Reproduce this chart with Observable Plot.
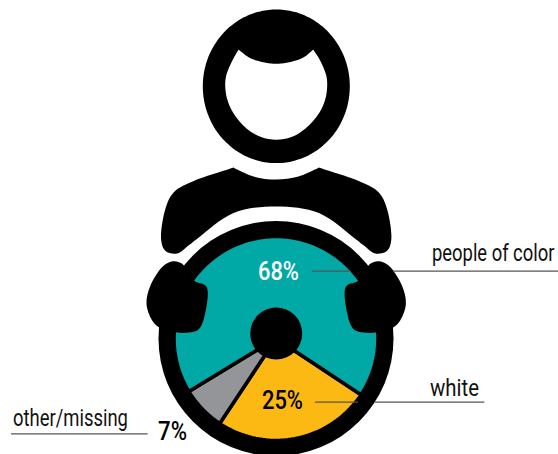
<!DOCTYPE html>
<html><head><meta charset="utf-8">
<script src="https://cdn.jsdelivr.net/npm/d3@7"></script>
<script src="https://cdn.jsdelivr.net/npm/@observablehq/plot@0.6"></script>
<style>html,body{margin:0;padding:0;background:#fff}svg{display:block}</style>
</head><body><div id="chart"></div>
<script>
const categories = ["white", "other/missing", "people of color"];
const shares = [25, 7, 68];
const shareLabels = ["25%", "7%", "68%"];
const sliceColors = ["#fdb913", "#939598", "#00a9a5"];

const W = 558, H = 454, MID = 275.7;
const wheel = {x: 275.5, y: 338};
const F = 'Roboto';

const corner = (x, y) => [[x - 0.03, y - 0.03], [x + 0.03, y + 0.03]];
const mirror = pts => pts.map(([x, y]) => [2 * MID - x, y]);

const facePts = [...corner(238.3, 49.3), [247, 56], [256, 60], [275.7, 63.3], [295.5, 60], [304.5, 56], ...corner(312.7, 49.3),
  [318, 57], [322.5, 66], [326, 76], [326.7, 85], [325, 98], [319, 112], [305, 128], [291, 136.5], [275.7, 139.3], [260.5, 136.5], [246, 128], [232.5, 112], [226.5, 98], [224.7, 85], [225.5, 76], [229, 66], [233.5, 57]];
const bodyLeftDown = [...corner(232.7, 167), [193.3, 180.5], [173.3, 191.7], [165, 208], [160.7, 240], [165, 250.5], [176.7, 253], ...corner(188, 245)];
const bodyRightUp = mirror(bodyLeftDown).reverse();
const bodyPts = [...bodyLeftDown, [197, 238], [233, 212.5], [MID, 206], [318.4, 212.5], [354.4, 238], ...bodyRightUp, [298, 176], [MID, 179], [253, 176]];
const handLeft = [[173.3, 260.7], [181.7, 263.3], [193.3, 280], [205, 285], [207.3, 291.7], [201.7, 323.3], [196.7, 330], [185, 332.3], [175, 331.7], [158.3, 326.7], [151.7, 320], [146, 303.3], [150, 285], [163.3, 265]];
const handRight = mirror(handLeft);
const headOuter = d3.range(0, 360, 3).map(a => [275.8 + 73.5 * Math.cos(a * Math.PI / 180), 85.8 + 76.8 * Math.sin(a * Math.PI / 180)]);

const leaders = [
  [[312.3, 270.7], [350, 270.7]], [[393, 270.7], [558, 270.7]],
  [[315, 401.7], [357, 401.7]], [[375, 401.7], [483.3, 401.7]],
  [[11, 433.3], [146.7, 433.3]]
];

function wedge(startDeg, share) {
  const r = 102, sweep = share * 3.6, n = Math.ceil(sweep / 2);
  const pts = [[wheel.x, wheel.y]];
  for (let i = 0; i <= n; i++) {
    const a = (startDeg + sweep * i / n) * Math.PI / 180;
    pts.push([wheel.x + r * Math.sin(a), wheel.y - r * Math.cos(a)]);
  }
  return pts;
}
let angle = 123.5;
const wedges = shares.map((s, i) => {
  const w = {pts: wedge(angle, s), color: sliceColors[i]};
  angle += s * 3.6;
  return w;
});

const px = {x: d => d[0], y: d => d[1]};
const blob = (pts, fill) => Plot.line(pts, {...px, fill, stroke: "none", curve: "catmull-rom-closed"});

const categoryLabels = [
  {t: categories[2], x: 431.5, y: 260, w: 122.5},
  {t: categories[0], x: 429.5, y: 395, w: 49},
  {t: categories[1], x: 12.5, y: 425, w: 115}
];
const valueLabels = [
  {t: shareLabels[2], x: 257.5, y: 279, c: "#fff", w: 41},
  {t: shareLabels[0], x: 261.5, y: 408, c: "#000", w: 41},
  {t: shareLabels[1], x: 157.5, y: 439, c: "#000", w: 29}
];
const fitted = new Map([...categoryLabels, ...valueLabels].map(d => [d.t, d.w]));

const chart = Plot.plot({
  width: W, height: H, margin: 0,
  x: {type: "identity", axis: null},
  y: {type: "identity", axis: null},
  marks: [
    blob(headOuter, "#000"),
    blob(facePts, "#fff"),
    blob(bodyPts, "#000"),
    Plot.dot([wheel], {x: "x", y: "y", r: 117.5, fill: "#000"}),
    ...wedges.map(w => Plot.line(w.pts, {...px, fill: w.color, stroke: "#000", strokeWidth: 3.6, curve: "linear-closed"})),
    Plot.dot([{x: MID, y: 333}], {x: "x", y: "y", r: 26, fill: "#000"}),
    blob(handLeft, "#000"),
    blob(handRight, "#000"),
    ...leaders.map(l => Plot.line(l, {...px, stroke: "#555", strokeWidth: 1.3})),
    Plot.text(categoryLabels, {x: "x", y: "y", text: "t", textAnchor: "start", lineAnchor: "bottom", fontFamily: F, fontSize: 23, fill: "#111"}),
    ...valueLabels.map(v => Plot.text([v], {x: "x", y: "y", text: "t", textAnchor: "start", lineAnchor: "bottom", fontFamily: F, fontSize: 26, fontWeight: 500, fill: v.c}))
  ]
});
document.getElementById("chart").append(chart);
// Squeeze the labels horizontally to the reference's condensed widths; they stay real text.
chart.querySelectorAll("text").forEach(t => {
  const w = fitted.get(t.textContent.trim());
  if (w) t.setAttribute("transform", `${t.getAttribute("transform") || ""} scale(${w / t.getComputedTextLength()},1)`);
});
</script></body></html>
